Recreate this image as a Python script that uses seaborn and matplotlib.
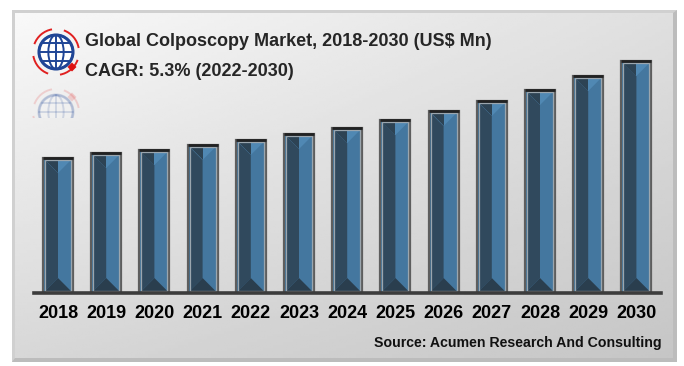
import numpy as np
import matplotlib
matplotlib.use("Agg")
import matplotlib.pyplot as plt
import matplotlib.patches as mpatches
import seaborn as sns

# Values (relative bar heights, no y axis shown)
years = ["2018", "2019", "2020", "2021", "2022", "2023", "2024",
         "2025", "2026", "2027", "2028", "2029", "2030"]
market_size = [135, 140, 143, 148, 153, 159, 165, 173, 182, 192, 203, 217, 232]

title = "Global Colposcopy Market, 2018-2030 (US$ Mn)"
subtitle = "CAGR: 5.3% (2022-2030)"
source = "Source: Acumen Research And Consulting"

sns.set_style("white")
plt.rcParams["font.family"] = ["Liberation Sans", "DejaVu Sans"]

W, H = 684, 366
fig = plt.figure(figsize=(W / 100, H / 100), dpi=100)

# background panel in pixel coordinates
bg = fig.add_axes([0, 0, 1, 1])
bg.set_xlim(0, W)
bg.set_ylim(H, 0)
bg.axis("off")

px0, py0, px1, py1 = 12, 10, 677, 362
bg.add_patch(mpatches.Rectangle((px0, py0), px1 - px0, py1 - py0,
                                facecolor="#d0d0d0", edgecolor="none"))
bg.add_patch(mpatches.Polygon([(px1, py0), (px1, py1), (px0, py1), (px0 + 3, py1 - 4),
                               (px1 - 4, py1 - 4), (px1 - 4, py0 + 3)],
                              closed=True, facecolor="#bcbcbc", edgecolor="none"))
u = np.linspace(0, 1, 200)
v = np.linspace(0, 1, 120)
U, V = np.meshgrid(u, v)
grad = 0.975 - 0.10 * U - 0.13 * V + 0.03 * U * V
bg.imshow(grad, cmap="gray", vmin=0, vmax=1, aspect="auto",
          extent=(px0 + 3, px1 - 4, py1 - 4, py0 + 3), zorder=1)

# logo: globe with red arrows, and a faint reflection below
def draw_logo(cx, cy, alpha, flip=1, clip=None):
    r = 17
    blue = "#1f4596"
    arts = []
    arts.append(bg.add_patch(mpatches.Circle((cx, cy), r, facecolor="white", edgecolor=blue,
                                             lw=2.2, alpha=alpha, zorder=3)))
    for wfrac in (0.45, 1.0):
        arts.append(bg.add_patch(mpatches.Ellipse((cx, cy), 2 * r * wfrac, 2 * r,
                                                  facecolor="none", edgecolor=blue,
                                                  lw=1.4, alpha=alpha, zorder=3)))
    arts += bg.plot([cx, cx], [cy - r, cy + r], color=blue, lw=1.4, alpha=alpha, zorder=3)
    for k in (-0.55, 0, 0.55):
        half = r * np.sqrt(1 - k ** 2)
        arts += bg.plot([cx - half, cx + half], [cy + k * r, cy + k * r], color=blue,
                        lw=1.4, alpha=alpha, zorder=3)
    for a0 in (20, 110, 200, 290):
        arts.append(bg.add_patch(mpatches.Arc((cx, cy), 46, 46, theta1=a0, theta2=a0 + 60,
                                              color="#e02020", lw=1.4, alpha=alpha, zorder=3)))
    d = 4.5
    dx, dy = cx + 16, cy + 15 * flip
    arts.append(bg.add_patch(mpatches.Polygon([(dx, dy - d), (dx + d, dy), (dx, dy + d),
                                               (dx - d, dy)], facecolor="#dd1111",
                                              edgecolor="none", alpha=alpha, zorder=3)))
    if clip is not None:
        rect = mpatches.Rectangle(clip[:2], clip[2], clip[3], transform=bg.transData)
        for a in arts:
            a.set_clip_path(rect)

draw_logo(56, 52, 1.0)
draw_logo(56, 112, 0.16, flip=-1, clip=(20, 84, 80, 34))

# chart axes: one data unit in y = one pixel
spacing = 48.2
ax_left = 58 - spacing / 2
ax_bottom = 293
ax_h = 253
ax = fig.add_axes([ax_left / W, (H - ax_bottom) / H, 13 * spacing / W, ax_h / H])
ax.patch.set_alpha(0)

sns.barplot(x=years, y=market_size, color="#44779f", saturation=1, width=0.62,
            edgecolor="#5e5e5e", linewidth=1.6, ax=ax, zorder=3)
ax.set_ylim(0, ax_h)
ax.set_xlim(-0.5, 12.5)

# bevel shading on each bar
ex = 2.0 / spacing
ey = 2.0
dep = 15
for p in ax.patches:
    x0 = p.get_x()
    w = p.get_width()
    h = p.get_height()
    x1 = x0 + w
    xm = x0 + w / 2
    ax.add_patch(mpatches.Polygon([(x0 + ex, ey), (xm, dep), (xm, h - dep), (x0 + ex, h - ey)],
                                  facecolor="#30495d", edgecolor="none", zorder=4))
    ax.add_patch(mpatches.Polygon([(x0 + ex, h - ey), (x1 - ex, h - ey), (xm, h - dep)],
                                  facecolor="#5088b3", edgecolor="none", zorder=4))
    ax.add_patch(mpatches.Polygon([(x0 + ex, h - ey), (xm, h - ey), (xm, h - dep)],
                                  facecolor="#2d4354", edgecolor="none", zorder=4))
    ax.add_patch(mpatches.Polygon([(x0 + ex, ey), (x1 - ex, ey), (xm, dep)],
                                  facecolor="#2a3e4e", edgecolor="none", zorder=4))
    ax.add_patch(mpatches.Rectangle((x0 + ex, ey), w - 2 * ex, h - 2 * ey, facecolor="none",
                                    edgecolor="#9ba6ae", lw=0.9, zorder=5))
    ax.plot([x0, x1], [h, h], color="#222222", lw=2.0, zorder=6, solid_capstyle="butt")

for side in ("top", "right", "left"):
    ax.spines[side].set_visible(False)
ax.spines["bottom"].set_color("#3c3c3c")
ax.spines["bottom"].set_linewidth(2.6)
ax.spines["bottom"].set_zorder(7)
ax.set_yticks([])
ax.set_xlabel("")
ax.set_ylabel("")
ax.tick_params(axis="x", length=0, pad=9)
for lab in ax.get_xticklabels():
    lab.set_fontsize(13)
    lab.set_fontweight("bold")
    lab.set_color("black")

bg.text(85, 42, title, fontsize=13, fontweight="bold", va="center", ha="left", zorder=4)
bg.text(85, 72, subtitle, fontsize=13, fontweight="bold", va="center", ha="left", zorder=4)
bg.text(662, 343, source, fontsize=10.2, fontweight="bold", va="center", ha="right",
        color="#111111", zorder=4)

fig.savefig("out.png", dpi=100)
